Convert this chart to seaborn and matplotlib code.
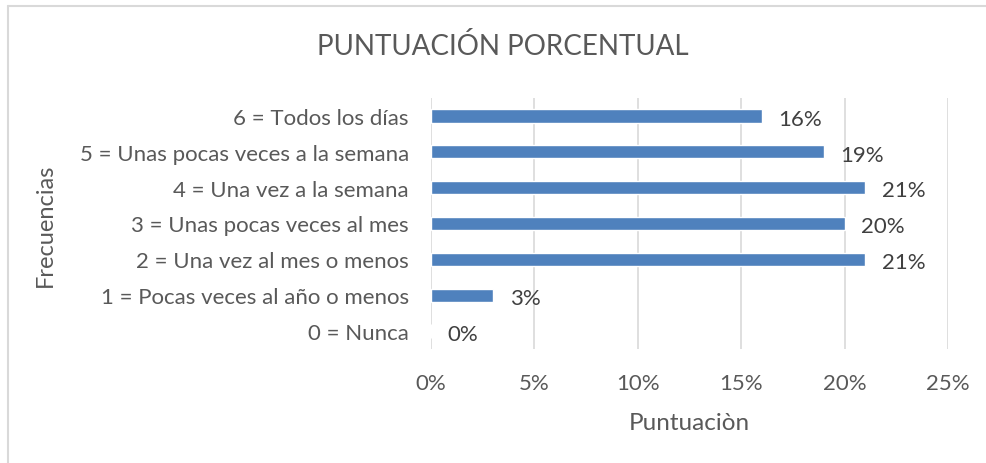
import matplotlib
matplotlib.use("Agg")
import matplotlib.pyplot as plt
import seaborn as sns
import pandas as pd
from matplotlib.lines import Line2D

categories = [
    "6 = Todos los días",
    "5 = Unas pocas veces a la semana",
    "4 = Una vez a la semana",
    "3 = Unas pocas veces al mes",
    "2 = Una vez al mes o menos",
    "1 = Pocas veces al año o menos",
    "0 = Nunca",
]
values = [16, 19, 21, 20, 21, 3, 0]
xticks = [0, 5, 10, 15, 20, 25]
xtick_labels = ["0%", "5%", "10%", "15%", "20%", "25%"]

df = pd.DataFrame({"cat": categories, "val": values})

sns.set_theme(style="white")
plt.rcParams["font.family"] = ["Lato", "DejaVu Sans"]
gray = "#595959"

W, H = 987, 464
fig = plt.figure(figsize=(W / 100, H / 100), dpi=100)
ax = fig.add_axes([431 / W, 1 - 350 / H, (948 - 431) / W, (350 - 99) / H])

sns.barplot(data=df, x="val", y="cat", orient="h", color="#4F81BD",
            saturation=1, width=0.37, ax=ax, order=categories)

ax.set_xlim(0, 25)
ax.set_ylim(6.5, -0.5)
ax.set_xticks(xticks)
ax.set_xticklabels(xtick_labels)
ax.xaxis.grid(True, color="#D9D9D9", linewidth=1.2)
ax.set_axisbelow(True)
for s in ax.spines.values():
    s.set_visible(False)
ax.tick_params(axis="x", length=0, pad=17, labelsize=16, labelcolor=gray)
ax.tick_params(axis="y", length=0, pad=16, labelsize=16, labelcolor=gray)

for i, v in enumerate(values):
    ax.annotate(f"{v}%", xy=(v, i), xytext=(12, -2), textcoords="offset points",
                ha="left", va="center", fontsize=16, color="#404040")

ax.set_xlabel("Puntuaciòn", fontsize=17.5, color=gray, labelpad=14)
ax.set_ylabel("")
fig.text(45 / W, 1 - 225 / H, "Frecuencias", rotation=90, ha="center",
         va="center", fontsize=17, color=gray)
fig.text(503 / W, 1 - 47 / H, "PUNTUACIÓN PORCENTUAL", ha="center",
         va="center", fontsize=20, color=gray)

fig.add_artist(Line2D([8 / W, 1], [1 - 7 / H, 1 - 7 / H], color="#D9D9D9", lw=1.5))
fig.add_artist(Line2D([8 / W, 8 / W], [0, 1 - 7 / H], color="#D9D9D9", lw=1.5))

fig.savefig("out.png", dpi=100, facecolor="white")
